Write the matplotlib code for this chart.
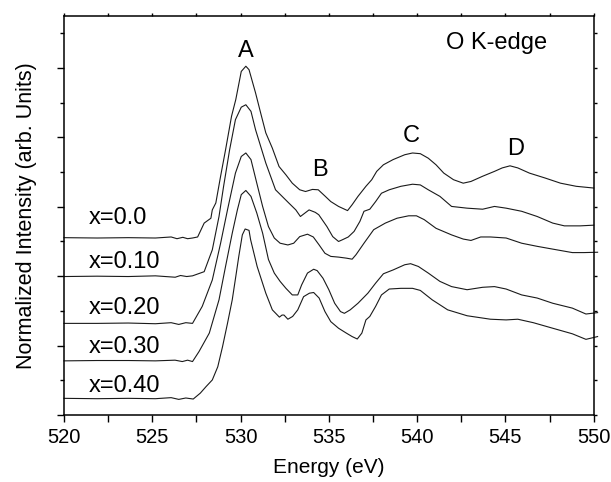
import matplotlib
matplotlib.use("Agg")
import matplotlib.pyplot as plt
from matplotlib.ticker import MultipleLocator
from matplotlib.transforms import ScaledTranslation

plt.rcParams["font.family"] = ["Liberation Sans", "DejaVu Sans"]

# O K-edge spectra, energy (eV) and stacked intensity (arb. units)
e_000 = [520.00, 521.88, 523.64, 525.18, 526.07, 526.40, 526.73, 527.00, 527.28, 527.57,
         527.94, 528.32, 528.40, 528.60, 528.87, 529.15, 529.49, 529.73, 530.04, 530.30,
         530.48, 530.85, 531.14, 531.43, 531.80, 532.18, 532.57, 532.93, 533.35, 533.68,
         534.07, 534.40, 534.80, 535.11, 535.55, 536.06, 536.32, 536.65, 537.10, 537.43,
         537.71, 538.09, 538.64, 539.30, 539.74, 540.18, 540.63, 541.07, 541.51, 542.06,
         542.61, 543.05, 543.71, 544.38, 544.82, 545.26, 545.70, 546.36, 547.24, 548.12,
         549.01, 550.00]
i_000 = [5.11, 5.10, 5.11, 5.10, 5.13, 5.08, 5.12, 5.08, 5.10, 5.13,
         5.53, 5.67, 5.91, 6.11, 6.88, 7.64, 8.61, 9.09, 9.90, 10.05,
         9.95, 9.28, 8.70, 8.13, 7.69, 7.16, 6.92, 6.68, 6.49, 6.44,
         6.50, 6.49, 6.30, 6.15, 6.01, 5.89, 6.06, 6.30, 6.59, 6.78,
         7.02, 7.21, 7.36, 7.50, 7.55, 7.53, 7.40, 7.21, 6.97, 6.78,
         6.68, 6.73, 6.88, 7.02, 7.12, 7.18, 7.12, 6.97, 6.83, 6.68,
         6.59, 6.54]

e_010 = [520.00, 521.88, 523.64, 525.18, 526.30, 526.60, 526.95, 527.28, 527.94, 528.40,
         528.78, 529.04, 529.38, 529.71, 530.04, 530.30, 530.59, 530.85, 531.14, 531.43,
         531.98, 532.73, 533.13, 533.39, 533.88, 534.23, 534.43, 534.89, 535.22, 535.55,
         535.77, 536.10, 536.43, 536.76, 536.99, 537.32, 537.65, 537.98, 538.42, 539.08,
         539.74, 540.18, 540.63, 541.29, 541.95, 542.83, 543.71, 544.38, 545.04, 545.92,
         546.80, 547.68, 548.34, 549.23, 550.00]
i_010 = [3.99, 4.00, 3.99, 4.01, 3.97, 4.02, 3.99, 4.01, 4.13, 4.76,
         5.72, 6.59, 7.64, 8.51, 8.87, 8.94, 8.75, 8.22, 7.74, 7.26,
         6.49, 6.11, 5.91, 5.72, 5.91, 5.84, 5.77, 5.43, 5.14, 5.00,
         5.05, 5.13, 5.29, 5.58, 5.87, 5.93, 6.15, 6.39, 6.49, 6.59,
         6.65, 6.63, 6.49, 6.30, 6.01, 5.96, 5.93, 6.01, 5.96, 5.87,
         5.72, 5.53, 5.45, 5.45, 5.47]

e_020 = [520.00, 521.88, 523.64, 525.18, 526.07, 526.50, 526.90, 527.28, 527.83, 528.40,
         528.87, 529.26, 529.71, 530.04, 530.30, 530.59, 530.92, 531.25, 531.58, 531.91,
         532.24, 532.68, 533.01, 533.35, 533.79, 534.12, 534.45, 534.78, 535.11, 535.55,
         535.99, 536.32, 536.54, 536.99, 537.54, 538.20, 538.86, 539.52, 539.96, 540.40,
         541.07, 541.95, 542.61, 543.05, 543.60, 544.15, 545.04, 545.92, 546.80, 547.68,
         548.79, 549.45, 550.22]
i_020 = [2.64, 2.64, 2.65, 2.63, 2.66, 2.61, 2.66, 2.64, 3.13, 3.89,
         4.95, 5.91, 6.97, 7.45, 7.55, 7.36, 6.68, 6.01, 5.43, 5.10,
         4.95, 4.90, 4.95, 5.14, 5.21, 5.13, 4.90, 4.66, 4.57, 4.55,
         4.52, 4.49, 4.62, 4.95, 5.34, 5.53, 5.67, 5.74, 5.74, 5.63,
         5.38, 5.19, 5.07, 5.03, 5.13, 5.13, 5.10, 4.95, 4.86, 4.78,
         4.68, 4.68, 4.69]

e_030 = [520.00, 521.88, 523.64, 525.18, 526.29, 526.70, 527.00, 527.28, 527.65, 528.23,
         528.78, 529.15, 529.53, 529.82, 530.04, 530.30, 530.59, 530.92, 531.25, 531.58,
         531.91, 532.24, 532.57, 532.93, 533.24, 533.46, 533.79, 534.14, 534.34, 534.67,
         535.00, 535.33, 535.66, 535.88, 536.21, 536.65, 537.21, 537.65, 538.09, 538.64,
         539.30, 539.63, 540.07, 540.63, 541.29, 541.95, 542.83, 543.71, 544.38, 545.04,
         545.92, 546.80, 547.68, 548.79, 549.56, 550.22]
i_030 = [1.56, 1.57, 1.57, 1.56, 1.58, 1.54, 1.58, 1.54, 1.83, 2.36,
         3.32, 4.28, 5.24, 5.91, 6.35, 6.47, 6.30, 5.82, 5.24, 4.48,
         4.09, 3.85, 3.65, 3.46, 3.46, 3.75, 4.09, 4.20, 4.16, 3.94,
         3.61, 3.22, 2.98, 2.93, 3.03, 3.22, 3.51, 3.80, 4.07, 4.18,
         4.33, 4.36, 4.28, 4.09, 3.85, 3.70, 3.61, 3.68, 3.70, 3.63,
         3.46, 3.37, 3.22, 3.08, 2.91, 2.95]

e_040 = [520.00, 521.88, 523.64, 525.18, 526.07, 526.50, 526.90, 527.32, 527.72, 528.05,
         528.40, 528.71, 528.98, 529.26, 529.53, 529.73, 529.90, 530.10, 530.26, 530.48,
         530.57, 530.94, 531.43, 531.80, 532.20, 532.35, 532.46, 532.68, 532.95, 533.24,
         533.57, 533.90, 534.14, 534.45, 534.78, 535.11, 535.55, 535.99, 536.32, 536.61,
         536.87, 537.10, 537.32, 537.65, 537.98, 538.42, 539.08, 539.74, 540.18, 540.85,
         541.73, 542.83, 544.15, 545.04, 545.70, 546.58, 547.68, 548.79, 549.56, 550.22]
i_040 = [0.48, 0.47, 0.48, 0.47, 0.50, 0.45, 0.49, 0.46, 0.63, 0.82,
         1.01, 1.39, 1.97, 2.64, 3.32, 3.99, 4.57, 5.19, 5.36, 5.32,
         5.05, 4.28, 3.51, 3.03, 2.82, 2.88, 2.88, 2.76, 2.84, 3.03,
         3.41, 3.51, 3.53, 3.37, 2.98, 2.69, 2.50, 2.36, 2.26, 2.19,
         2.36, 2.74, 2.84, 3.13, 3.46, 3.63, 3.65, 3.65, 3.59, 3.32,
         3.03, 2.86, 2.76, 2.74, 2.76, 2.66, 2.50, 2.34, 2.18, 2.26]

series = [(e_000, i_000), (e_010, i_010), (e_020, i_020), (e_030, i_030), (e_040, i_040)]
curve_labels = ["x=0.0", "x=0.10", "x=0.20", "x=0.30", "x=0.40"]
label_y = [5.67, 4.42, 3.08, 1.97, 0.84]

peak_names = ["A", "B", "C", "D"]
peak_e = [530.30, 534.49, 539.68, 545.59]
peak_i = [10.48, 7.05, 8.05, 7.66]

fig = plt.figure(figsize=(6.11, 4.82), dpi=100)
ax = fig.add_axes([0.1047, 0.139, 0.867, 0.828])

for e, i in series:
    ax.plot(e, i, color="#1a1a1a", lw=0.8, clip_on=False)

for lab, y in zip(curve_labels, label_y):
    ax.text(521.4, y, lab, fontsize=17, va="center", ha="left")

for name, e, i in zip(peak_names, peak_e, peak_i):
    ax.text(e, i, name, fontsize=17, ha="center", va="center")

ax.text(544.5, 10.72, "O K-edge", fontsize=17, ha="center", va="center")

ax.set_xlim(520, 550)
ax.set_ylim(0, 11.5)
ax.xaxis.set_major_locator(MultipleLocator(5))
ax.xaxis.set_minor_locator(MultipleLocator(2.5))
ax.yaxis.set_major_locator(MultipleLocator(2))
ax.yaxis.set_minor_locator(MultipleLocator(1))
ax.set_yticklabels([])

ax.tick_params(axis="x", which="both", direction="out", length=5, width=1.0,
               labelsize=14.5, pad=4)
ax.tick_params(axis="y", which="major", direction="out", length=5, width=1.0)
ax.tick_params(axis="y", which="minor", direction="out", length=3, width=1.0)
ax.tick_params(which="both", top=True, right=True)
for t in ax.xaxis.get_ticklines(minor=False)[1::2] + ax.xaxis.get_ticklines(minor=True)[1::2]:
    t.set_markersize(2)
for t in ax.yaxis.get_ticklines(minor=False)[1::2] + ax.yaxis.get_ticklines(minor=True)[1::2]:
    t.set_markersize(2)

# last tick label sits right at the figure edge, nudge it in a touch
fig.canvas.draw()
last = ax.get_xticklabels()[-1]
last.set_transform(last.get_transform() + ScaledTranslation(-2 / 72, 0, fig.dpi_scale_trans))

for s in ax.spines.values():
    s.set_linewidth(1.1)

ax.set_xlabel("Energy (eV)", fontsize=15, labelpad=8)
ax.set_ylabel("Normalized Intensity (arb. Units)", fontsize=15.5, labelpad=11)

fig.savefig("out.png", dpi=100)
